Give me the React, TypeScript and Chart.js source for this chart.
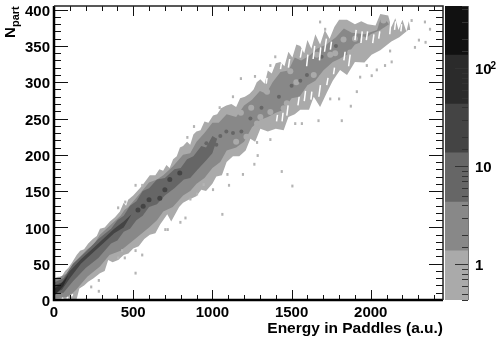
import React, { useEffect, useRef } from "react";
import { Chart, registerables } from "chart.js";
Chart.register(...registerables);

const xMajor = [0, 500, 1000, 1500, 2000];
const yMajor = [0, 50, 100, 150, 200, 250, 300, 350, 400];
const xMax = 2456;
const yMax = 405;
const scaleEdges = [0.432, 1.37, 4.32, 13.7, 43.2, 136.6, 432];
const scaleColors = ["#aaaaaa", "#888888", "#666666", "#444444", "#2b2b2b", "#111111"];
const scaleLabels = [1, 10, 100];

const level1Upper = [[0,30],[25,32],[48,32],[70,40],[90,44],[115,52],[143,62],[165,68],[190,70],[216,78],[245,84],[270,88],[290,98],[320,100],[353,108],[385,114],[416,122],[440,134],[455,130],[468,138],[500,144],[542,154],[565,160],[585,166],[605,172],[640,172],[665,180],[689,178],[710,186],[730,182],[752,194],[775,198],[795,210],[815,212],[840,218],[860,214],[880,228],[899,232],[925,234],[950,246],[975,244],[1004,254],[1030,256],[1055,264],[1088,268],[1120,270],[1150,266],[1175,278],[1205,280],[1235,284],[1260,290],[1280,300],[1303,304],[1330,298],[1350,316],[1375,312],[1400,326],[1429,328],[1455,322],[1480,342],[1505,334],[1530,352],[1555,350],[1580,340],[1600,358],[1625,346],[1650,366],[1680,352],[1710,372],[1740,360],[1770,376],[1800,386],[1850,386],[1900,380],[1940,384],[1980,380],[2030,378],[2060,394],[2110,392],[2130,376],[2155,388],[2175,372],[2200,386],[2225,370],[2240,384],[2250,372]];
const level1Lower = [[0,0],[143,1],[160,16],[190,20],[216,25],[250,30],[290,37],[320,40],[342,55],[370,52],[405,55],[440,62],[470,64],[500,71],[535,74],[570,84],[605,90],[640,92],[670,104],[689,110],[715,118],[740,108],[765,118],[790,128],[815,134],[850,138],[899,143],[930,152],[960,150],[1000,160],[1025,170],[1060,172],[1090,190],[1130,198],[1170,198],[1210,206],[1240,222],[1270,218],[1303,236],[1350,232],[1400,236],[1450,234],[1480,252],[1520,256],[1555,262],[1610,262],[1640,280],[1680,266],[1723,286],[1760,302],[1806,317],[1850,310],[1900,328],[1960,327],[2005,338],[2060,344],[2130,356],[2180,362],[2236,372],[2250,372]];
const level2Upper = [[0,28],[80,36],[140,54],[210,70],[250,76],[290,90],[350,102],[420,116],[445,124],[470,128],[540,146],[600,162],[650,166],[690,172],[750,184],[815,200],[860,202],[900,218],[950,230],[1000,244],[1040,244],[1090,256],[1150,252],[1200,268],[1250,276],[1300,288],[1340,284],[1380,300],[1430,314],[1480,316],[1520,334],[1560,330],[1610,336],[1660,346],[1720,352],[1780,362],[1830,374],[1880,368],[1960,366],[2040,372],[2060,386],[2100,384],[2115,380]];
const level2Lower = [[0,2],[80,4],[120,10],[140,14],[210,32],[290,46],[350,62],[420,68],[500,82],[600,100],[650,110],[690,122],[750,128],[815,144],[860,150],[900,160],[950,168],[1000,182],[1050,190],[1090,206],[1150,210],[1200,218],[1250,238],[1300,248],[1350,252],[1400,258],[1450,262],[1500,278],[1550,280],[1600,296],[1650,302],[1700,316],[1760,328],[1800,332],[1850,338],[1900,352],[1950,356],[2000,366],[2060,372],[2115,380]];
const level3Upper = [[0,24],[60,30],[120,50],[200,66],[280,84],[360,98],[400,110],[440,116],[480,130],[520,136],[560,150],[600,154],[650,166],[700,168],[760,180],[800,182],[840,194],[880,198],[930,212],[960,210],[1000,226],[1030,222]];
const level3Lower = [[0,8],[60,10],[120,26],[200,44],[280,58],[360,78],[400,82],[440,94],[480,98],[520,110],[560,116],[600,128],[650,132],[700,144],[760,154],[820,166],[860,168],[900,178],[960,192],[1000,202],[1030,222]];
const level4Upper = [[0,20],[50,24],[100,40],[170,56],[240,70],[320,86],[380,98],[440,108],[490,118]];
const level4Lower = [[0,10],[50,14],[100,30],[170,50],[240,64],[320,80],[380,92],[440,100],[490,118]];
const level5Upper = [[0,15],[30,20],[60,26],[90,34]];
const level5Lower = [[0,6],[30,12],[60,20],[90,34]];

const specks = [[515,158],[557,158],[515,37],[447,58],[557,62],[515,68],[430,68],[405,58],[235,18],[283,27],[283,12],[1063,118],[1004,152],[1095,173],[1105,158],[1193,173],[798,107],[830,113],[703,97],[718,97],[861,139],[903,146],[945,159],[405,127],[450,135],[1180,305],[1130,280],[1046,265],[884,239],[842,224],[1286,199],[1265,187],[1438,177],[1505,157],[1397,335],[1366,323],[1269,308],[1680,383],[1712,373],[1817,247],[1874,267],[1912,287],[1800,277],[1744,277],[1670,247],[1565,243],[1523,243],[1366,221],[1282,217],[2038,317],[2090,323],[2132,328],[2006,309],[1975,323],[1933,307],[2122,343],[2279,348],[2304,358],[2346,355],[2342,383],[2374,373],[2258,385]];
const lightPatches = [[1450,264],[1470,271],[1366,259],[1303,252],[1282,243],[1387,243],[1597,287],[1691,306],[1660,338],[1744,338],[1870,341],[1954,359],[1828,359],[2080,385],[1303,294],[1345,287],[1492,315],[1215,225],[1150,218],[1245,265],[1180,258],[1530,300],[1640,310],[1775,340],[1900,360]];
const midPatches = [[920,195],[1025,214],[962,216],[1088,232],[1183,232],[1130,230],[1555,302],[1597,310],[1050,226],[1240,250],[1420,280],[1690,335],[1780,350],[1500,295],[1310,265]];
const darkPatches = [[563,129],[600,138],[668,140],[700,152],[731,166],[794,175],[530,124]];
const gapSegments = [[1555,334,1566,346],[1595,322,1603,338],[1636,332,1646,350],[1676,330,1684,348],[1708,342,1720,360],[1745,345,1752,356],[1672,280,1682,296],[1722,296,1730,306],[1765,311,1771,320],[1622,276,1628,287],[1580,274,1588,288],[1540,268,1548,280],[1470,254,1478,268],[1440,246,1446,258],[1405,246,1411,255],[1900,358,1908,372],[1938,354,1946,370],[1972,358,1980,370],[2012,354,2020,366],[2050,360,2057,370],[2120,366,2127,384],[2150,372,2157,384],[2190,370,2195,380],[1860,322,1870,338],[1830,330,1838,342],[1480,320,1488,332],[1430,318,1436,326],[1340,298,1345,306],[50,1,58,3],[80,2,90,4],[110,5,118,8]];

const toPts = (a: number[][]) => a.map(([x, y]) => ({ x, y }));
const pair = (up: number[][], lo: number[][], color: string, order: number) => [
  { type: "scatter", data: toPts(up), showLine: true, tension: 0, pointRadius: 0, borderWidth: 0, backgroundColor: color, fill: "+1", order },
  { type: "scatter", data: toPts(lo), showLine: true, tension: 0, pointRadius: 0, borderWidth: 0, fill: false, order: order + 1 },
];
const patch = (a: number[][], color: string, r: number, order: number) => ({
  type: "scatter", data: toPts(a), showLine: false, pointStyle: "circle", pointRadius: r, pointBackgroundColor: color, pointBorderWidth: 0, order,
});
const gapPoints = gapSegments.flatMap(([a, b, c, d]) => [{ x: a, y: b }, { x: c, y: d }, { x: c, y: NaN }]);

const FONT = "'Liberation Sans', Arial, sans-serif";

const frameTicks = {
  id: "frameTicks",
  afterDraw(chart: any) {
    const { ctx, chartArea: a, scales } = chart;
    ctx.save();
    ctx.strokeStyle = "#111";
    ctx.lineWidth = 1;
    ctx.beginPath();
    scales.x.ticks.forEach((t: any) => {
      const p = Math.round(scales.x.getPixelForValue(t.value)) + 0.5;
      const len = xMajor.includes(t.value) ? 10 : 5;
      ctx.moveTo(p, a.bottom); ctx.lineTo(p, a.bottom - len);
      ctx.moveTo(p, a.top); ctx.lineTo(p, a.top + len);
    });
    scales.y.ticks.forEach((t: any) => {
      const p = Math.round(scales.y.getPixelForValue(t.value)) + 0.5;
      const len = yMajor.includes(t.value) ? 14 : 7;
      ctx.moveTo(a.left, p); ctx.lineTo(a.left + len, p);
      ctx.moveTo(a.right, p); ctx.lineTo(a.right - len, p);
    });
    ctx.stroke();
    ctx.strokeStyle = "#000";
    ctx.lineWidth = 2.5;
    ctx.beginPath();
    ctx.moveTo(a.left, a.top); ctx.lineTo(a.left, a.bottom); ctx.lineTo(a.right, a.bottom);
    ctx.stroke();
    ctx.lineWidth = 1.5;
    ctx.strokeStyle = "#222";
    ctx.beginPath();
    ctx.moveTo(a.left, a.top); ctx.lineTo(a.right, a.top); ctx.lineTo(a.right, a.bottom);
    ctx.stroke();
    ctx.translate(15, 38);
    ctx.rotate(-Math.PI / 2);
    ctx.fillStyle = "#000";
    ctx.textBaseline = "alphabetic";
    ctx.textAlign = "left";
    ctx.font = `bold 15px ${FONT}`;
    ctx.fillText("N", 0, 0);
    ctx.font = `bold 11px ${FONT}`;
    ctx.fillText("part", 11, 3.5);
    ctx.restore();
  },
};

const barTicks = {
  id: "barTicks",
  afterDraw(chart: any) {
    const { ctx, chartArea: a, scales } = chart;
    ctx.save();
    ctx.strokeStyle = "#333";
    ctx.lineWidth = 1;
    ctx.beginPath();
    scales.y.ticks.forEach((t: any) => {
      if (t.value < scaleEdges[0] || t.value > scaleEdges[6]) return;
      const p = Math.round(scales.y.getPixelForValue(t.value)) + 0.5;
      const len = scaleLabels.includes(t.value) ? 13 : 6;
      ctx.moveTo(a.right, p); ctx.lineTo(a.right - len, p);
    });
    ctx.stroke();
    ctx.strokeStyle = "#777";
    ctx.beginPath();
    ctx.moveTo(a.right + 0.5, a.top); ctx.lineTo(a.right + 0.5, a.bottom);
    ctx.stroke();
    ctx.fillStyle = "#000";
    ctx.font = `bold 10px ${FONT}`;
    ctx.textAlign = "left";
    ctx.textBaseline = "alphabetic";
    ctx.fillText("2", a.right + 22.5, scales.y.getPixelForValue(100) + 1);
    ctx.restore();
  },
};

export default function App() {
  const mainRef = useRef<HTMLCanvasElement>(null);
  const barRef = useRef<HTMLCanvasElement>(null);
  useEffect(() => {
    const main = new Chart(mainRef.current!, {
      type: "scatter",
      data: {
        datasets: [
          ...pair(level1Upper, level1Lower, "#aaaaaa", 100),
          ...pair(level2Upper, level2Lower, "#888888", 90),
          patch(lightPatches, "#aaaaaa", 3, 80),
          patch(midPatches, "#666666", 2, 79),
          { type: "scatter", data: gapPoints, showLine: true, spanGaps: false, tension: 0, pointRadius: 0, borderColor: "#ffffff", borderWidth: 1.5, order: 70 },
          ...pair(level3Upper, level3Lower, "#666666", 60),
          patch(darkPatches, "#444444", 2.5, 50),
          ...pair(level4Upper, level4Lower, "#444444", 40),
          ...pair(level5Upper, level5Lower, "#2b2b2b", 20),
          { type: "bar", data: specks.map(([x, y]) => ({ x, y: [y - 1.5, y + 1.5] })), backgroundColor: "#b4b4b4", barThickness: 1.5, grouped: false, order: 10 },
        ] as any,
      },
      options: {
        animation: false,
        responsive: false,
        layout: { padding: { top: 6, right: 55, left: 0, bottom: 0 } },
        plugins: { legend: { display: false }, tooltip: { enabled: false } },
        scales: {
          x: {
            type: "linear", min: 0, max: xMax, offset: false,
            grid: { display: false, drawTicks: false },
            border: { display: false },
            afterBuildTicks(s: any) {
              const t = [];
              for (let v = 0; v <= 2400; v += 100) t.push({ value: v });
              s.ticks = t;
            },
            afterFit(s: any) { s.height = 38; s.paddingLeft = 0; s.paddingRight = 0; },
            ticks: {
              autoSkip: false, maxRotation: 0, padding: 4, color: "#000",
              font: { family: FONT, size: 15, weight: "bold" },
              callback: (v: any) => (xMajor.includes(v) ? String(v) : ""),
            },
            title: { display: true, text: "Energy in Paddles (a.u.)", align: "end", color: "#000", padding: { top: -1, bottom: 0 }, font: { family: FONT, size: 15.5, weight: "bold" } },
          },
          y: {
            type: "linear", min: 0, max: yMax,
            grid: { display: false, drawTicks: false },
            border: { display: false },
            afterBuildTicks(s: any) {
              const t = [];
              for (let v = 0; v <= 400; v += 10) t.push({ value: v });
              s.ticks = t;
            },
            afterFit(s: any) { s.width = 54; s.paddingTop = 0; s.paddingBottom = 0; },
            ticks: {
              autoSkip: false, padding: 4, color: "#000", labelOffset: 2,
              font: { family: FONT, size: 15, weight: "bold" },
              callback: (v: any) => (yMajor.includes(v) ? String(v) : ""),
            },
          },
        },
      } as any,
      plugins: [frameTicks],
    });
    const bar = new Chart(barRef.current!, {
      type: "bar",
      data: {
        labels: ["z"],
        datasets: scaleColors.map((c, i) => ({
          data: [[scaleEdges[i], scaleEdges[i + 1]]],
          backgroundColor: c,
          barPercentage: 1,
          categoryPercentage: 1,
          grouped: false,
        })) as any,
      },
      options: {
        animation: false,
        responsive: false,
        layout: { padding: { top: 6, right: 0, left: 0, bottom: 38 } },
        plugins: { legend: { display: false }, tooltip: { enabled: false } },
        scales: {
          x: { display: false },
          y: {
            type: "logarithmic", position: "right",
            min: scaleEdges[0], max: scaleEdges[scaleEdges.length - 1],
            grid: { display: false, drawTicks: false },
            border: { display: false },
            afterFit(s: any) { s.width = 30; s.paddingTop = 0; s.paddingBottom = 0; },
            ticks: {
              autoSkip: false, padding: 7, color: "#000", labelOffset: 2,
              font: { family: FONT, size: 15, weight: "bold" },
              callback: (v: any) => (v === 1 ? "1" : v === 10 || v === 100 ? "10" : ""),
            },
          },
        },
      } as any,
      plugins: [barTicks],
    });
    return () => { main.destroy(); bar.destroy(); };
  }, []);
  return (
    <div style={{ position: "fixed", left: 0, top: 0, width: 498, height: 338, background: "#fff" }}>
      <canvas ref={mainRef} width={498} height={338} style={{ position: "absolute", left: 0, top: 0, width: 498, height: 338 }} />
      <canvas ref={barRef} width={53} height={338} style={{ position: "absolute", left: 445, top: 0, width: 53, height: 338 }} />
    </div>
  );
}
